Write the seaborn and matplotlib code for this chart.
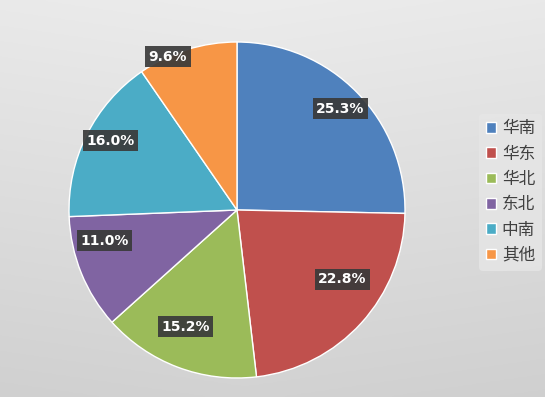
import numpy as np
import matplotlib
matplotlib.use("Agg")
import matplotlib.pyplot as plt
import seaborn as sns

categories = ["华南", "华东", "华北", "东北", "中南", "其他"]
values = [25.3, 22.8, 15.2, 11.0, 16.0, 9.6]
label_texts = ["25.3%", "22.8%", "15.2%", "11.0%", "16.0%", "9.6%"]
label_radius = [0.86, 0.75, 0.76, 0.81, 0.86, 1.0]
label_angle_shift = [0, 9, -3, -9, -2, 7]

sns.set_theme(style="white")
plt.rcParams['font.family'] = ['Noto Sans CJK SC', 'DejaVu Sans']

colors = sns.color_palette(["#4F81BD", "#C0504D", "#9BBB59", "#8064A2", "#4BACC6", "#F79646"])

W, H = 545, 397
fig = plt.figure(figsize=(W / 100, H / 100), dpi=100)

# background gradient
bg = fig.add_axes([0, 0, 1, 1], zorder=0)
yy = np.linspace(0, 1, 200)[:, None]
xx = np.linspace(0, 1, 300)[None, :]
grad = 0.925 - 0.10 * yy - 0.02 * np.abs(xx - 0.45)
bg.imshow(np.dstack([grad, grad, grad]), aspect="auto", extent=[0, 1, 0, 1], origin="upper")
bg.set_axis_off()

cx, cy, r = 237, 210, 168
ax = fig.add_axes([(cx - r) / W, (H - cy - r) / H, 2 * r / W, 2 * r / H], zorder=1)
wedges, _ = ax.pie(values, colors=colors, startangle=90, counterclock=False,
                   wedgeprops=dict(edgecolor="white", linewidth=1.0))
ax.set_xlim(-1, 1)
ax.set_ylim(-1, 1)
ax.set_aspect("equal")

total = sum(values)
start = 90.0
for i, v in enumerate(values):
    span = v / total * 360
    mid = start - span / 2 + label_angle_shift[i]
    start -= span
    rad = np.deg2rad(mid)
    x = label_radius[i] * np.cos(rad)
    y = label_radius[i] * np.sin(rad)
    ax.text(x, y, label_texts[i], ha="center", va="center", color="white",
            fontsize=10, fontweight="bold", family="DejaVu Sans",
            bbox=dict(boxstyle="square,pad=0.25", facecolor="#3a3a3a", edgecolor="none", alpha=0.92))

handles = [plt.Rectangle((0, 0), 1, 1, facecolor=c) for c in colors]
leg = fig.legend(handles, categories, loc="center left", bbox_to_anchor=(471 / W, 1 - 192 / H),
                 frameon=True, fontsize=12, handlelength=0.6, handleheight=0.6,
                 handletextpad=0.35, labelspacing=0.5, borderpad=0.4)
leg.get_frame().set_facecolor("#e6e6e6")
leg.get_frame().set_edgecolor("none")
leg.get_frame().set_alpha(0.8)
for t in leg.get_texts():
    t.set_color("#404040")

fig.savefig("out.png", dpi=100)
